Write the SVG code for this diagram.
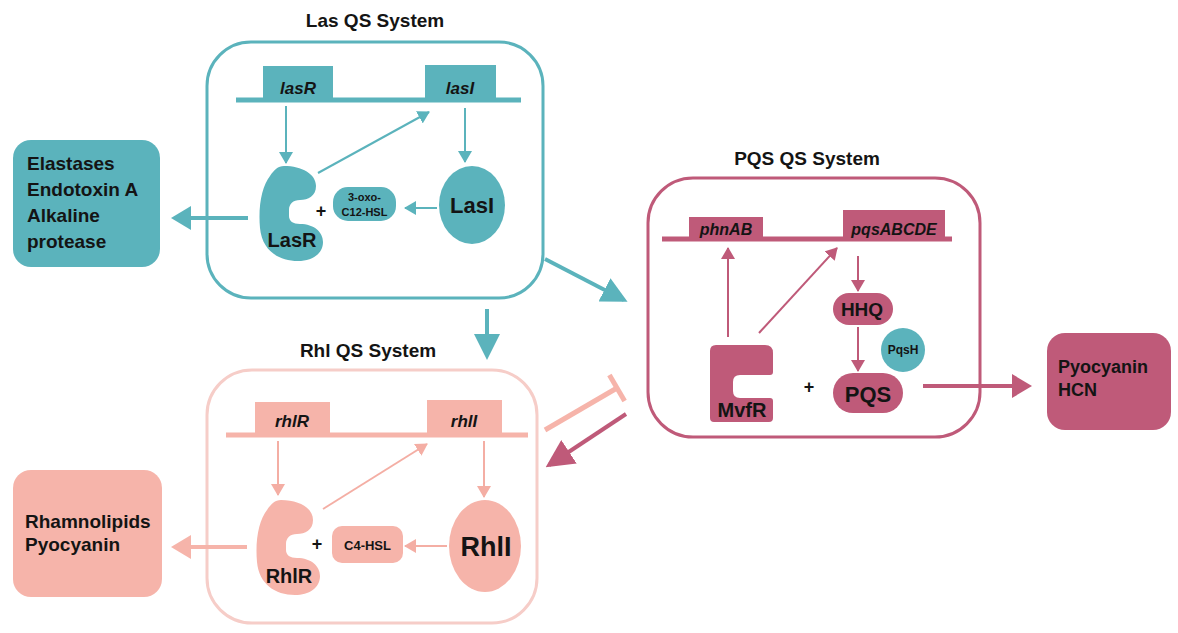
<svg xmlns="http://www.w3.org/2000/svg" width="1178" height="633" viewBox="0 0 1178 633">
<style>
text{font-family:"Liberation Sans",Arial,Helvetica,sans-serif;font-weight:bold;fill:#141414}
.title{font-size:19px;text-anchor:middle}
.gene{font-size:17px;font-style:italic;text-anchor:middle}
.mid{text-anchor:middle}
.teal{fill:#5bb3bc}
.maroon{fill:#bf5a79}
.pink{fill:#f6b4aa}
.tl{stroke:#5bb3bc;stroke-width:2;fill:none}
.ml{stroke:#bf5a79;stroke-width:2;fill:none}
.pl{stroke:#f4aea4;stroke-width:2;fill:none}
.thick{stroke-width:4}
.gl{stroke-width:5}
</style>
<defs>
<marker id="aT" viewBox="0 0 12 14" markerWidth="12" markerHeight="14" refX="11" refY="7" orient="auto" markerUnits="userSpaceOnUse"><path d="M0,0 L12,7 L0,14 z" fill="#5bb3bc"/></marker>
<marker id="aM" viewBox="0 0 12 14" markerWidth="12" markerHeight="14" refX="11" refY="7" orient="auto" markerUnits="userSpaceOnUse"><path d="M0,0 L12,7 L0,14 z" fill="#bf5a79"/></marker>
<marker id="aP" viewBox="0 0 12 14" markerWidth="12" markerHeight="14" refX="11" refY="7" orient="auto" markerUnits="userSpaceOnUse"><path d="M0,0 L12,7 L0,14 z" fill="#f4aea4"/></marker>
<marker id="bT" viewBox="0 0 26 26" markerWidth="26" markerHeight="26" refX="22" refY="13" orient="auto" markerUnits="userSpaceOnUse"><path d="M0,0 L26,13 L0,26 z" fill="#5bb3bc"/></marker>
<marker id="bM" viewBox="0 0 28 28" markerWidth="28" markerHeight="28" refX="24" refY="14" orient="auto" markerUnits="userSpaceOnUse"><path d="M0,0 L28,14 L0,28 z" fill="#bf5a79"/></marker>
<marker id="cT" viewBox="0 0 20 24" markerWidth="20" markerHeight="24" refX="16" refY="12" orient="auto" markerUnits="userSpaceOnUse"><path d="M0,0 L20,12 L0,24 z" fill="#5bb3bc"/></marker>
<marker id="cP" viewBox="0 0 20 24" markerWidth="20" markerHeight="24" refX="16" refY="12" orient="auto" markerUnits="userSpaceOnUse"><path d="M0,0 L20,12 L0,24 z" fill="#f6b4aa"/></marker>
<marker id="cM" viewBox="0 0 20 24" markerWidth="20" markerHeight="24" refX="16" refY="12" orient="auto" markerUnits="userSpaceOnUse"><path d="M0,0 L20,12 L0,24 z" fill="#bf5a79"/></marker>
<path id="receptor" d="M24 0 C42 0 56 8 56 20 C56 30 48 34 40 34 C33 34 29 38 29 44 L29 50 C29 55 33 58 40 58 C54 58 63 66 63 76 C63 88 52 95 38 95 C18 95 2 84 0 62 C-2 40 2 20 10 10 C14 4 18 0 24 0 Z"/>
</defs>
<rect width="1178" height="633" fill="#ffffff"/>

<!-- Las system -->
<g id="las-system">
<text class="title" x="375" y="27">Las QS System</text>
<rect x="207" y="42" width="336" height="256" rx="44" fill="none" stroke="#5bb3bc" stroke-width="3"/>
<line x1="236" y1="100" x2="521" y2="100" stroke="#5bb3bc" class="gl"/>
</g>
<g id="lasR-gene"><rect class="teal" x="263" y="66" width="70" height="34"/><text class="gene" x="298" y="94">lasR</text></g>
<g id="lasI-gene"><rect class="teal" x="425" y="65" width="71" height="35"/><text class="gene" x="460" y="94">lasI</text></g>
<g id="LasR"><use href="#receptor" transform="translate(260,166)" class="teal"/><text class="mid" x="292" y="247" font-size="20">LasR</text></g>
<g id="las-plus"><text class="mid" x="321" y="217" font-size="18">+</text></g>
<g id="oxo-C12-HSL"><rect class="teal" x="333" y="187" width="63" height="34" rx="15"/><text class="mid" x="364.5" y="201" font-size="11">3-oxo-</text><text class="mid" x="364.5" y="216" font-size="11">C12-HSL</text></g>
<g id="LasI"><ellipse class="teal" cx="472" cy="205" rx="33" ry="39"/><text class="mid" x="472" y="213" font-size="22">LasI</text></g>
<g id="elastases"><rect class="teal" x="13" y="140" width="147" height="127" rx="18"/>
<text x="27" y="170" font-size="19">Elastases</text><text x="27" y="196" font-size="19">Endotoxin A</text><text x="27" y="222" font-size="19">Alkaline</text><text x="27" y="248" font-size="19">protease</text></g>

<!-- PQS system -->
<g id="pqs-system">
<text class="title" x="807" y="165">PQS QS System</text>
<rect x="648" y="178" width="332" height="259" rx="45" fill="none" stroke="#bf5a79" stroke-width="3"/>
<line x1="662" y1="239" x2="952" y2="239" stroke="#bf5a79" class="gl"/>
</g>
<g id="phnAB-gene"><rect class="maroon" x="689" y="217" width="74" height="22"/><text class="gene" x="726" y="235" style="font-size:16px">phnAB</text></g>
<g id="pqsABCDE-gene"><rect class="maroon" x="843" y="210" width="102" height="29"/><text class="gene" x="894" y="235" style="font-size:16px">pqsABCDE</text></g>
<g id="MvfR"><path class="maroon" d="M716 345 L765 345 Q773 345 773 353 L773 372 Q773 375 770 375 L740 375 Q733 375 733 382 L733 391 Q733 398 740 398 L770 398 Q773 398 773 401 L773 418 Q773 422 769 422 L714 422 Q710 422 710 418 L710 351 Q710 345 716 345 Z"/><text class="mid" x="742" y="417" font-size="20">MvfR</text></g>
<g id="pqs-plus"><text class="mid" x="809" y="393" font-size="18">+</text></g>
<g id="HHQ"><rect class="maroon" x="833" y="293" width="60" height="32" rx="16"/><text class="mid" x="862" y="316" font-size="19">HHQ</text></g>
<g id="PqsH"><circle class="teal" cx="903" cy="350" r="22"/><text class="mid" x="903" y="354" font-size="12">PqsH</text></g>
<g id="PQS"><rect class="maroon" x="833" y="373" width="70" height="40" rx="20"/><text class="mid" x="868" y="402" font-size="22">PQS</text></g>
<g id="pyocyanin-hcn"><rect class="maroon" x="1047" y="333" width="124" height="97" rx="18"/><text x="1058" y="373" font-size="18">Pyocyanin</text><text x="1058" y="396" font-size="18">HCN</text></g>

<!-- Rhl system -->
<g id="rhl-system">
<text class="title" x="368" y="357">Rhl QS System</text>
<rect x="207" y="370" width="330" height="253" rx="45" fill="none" stroke="#f6cdc8" stroke-width="3"/>
<line x1="226" y1="435" x2="528" y2="435" stroke="#f6b4aa" class="gl"/>
</g>
<g id="rhlR-gene"><rect class="pink" x="255" y="402" width="75" height="33"/><text class="gene" x="292" y="427">rhlR</text></g>
<g id="rhlI-gene"><rect class="pink" x="427" y="400" width="75" height="35"/><text class="gene" x="464" y="427">rhlI</text></g>
<g id="RhlR"><use href="#receptor" transform="translate(257,500)" class="pink"/><text class="mid" x="289" y="583" font-size="20">RhlR</text></g>
<g id="rhl-plus"><text class="mid" x="317" y="550" font-size="18">+</text></g>
<g id="C4-HSL"><rect class="pink" x="332" y="526" width="71" height="37" rx="10"/><text class="mid" x="367.5" y="550" font-size="13">C4-HSL</text></g>
<g id="RhlI"><ellipse class="pink" cx="485" cy="546" rx="36" ry="46"/><text class="mid" x="486" y="556" font-size="27">RhlI</text></g>
<g id="rhamnolipids"><rect class="pink" x="13" y="470" width="149" height="127" rx="18"/><text x="25" y="528" font-size="19">Rhamnolipids</text><text x="25" y="551" font-size="19">Pyocyanin</text></g>

<!-- connectors -->
<g id="connectors">
<line class="tl" x1="286" y1="106" x2="286" y2="163" marker-end="url(#aT)"/>
<line class="tl" x1="465" y1="108" x2="465" y2="162" marker-end="url(#aT)"/>
<line class="tl" x1="318" y1="173" x2="429" y2="112" marker-end="url(#aT)"/>
<line class="tl" x1="437" y1="208" x2="405" y2="208" marker-end="url(#aT)"/>
<line class="tl thick" x1="248" y1="218" x2="175" y2="218" marker-end="url(#cT)"/>
<line class="tl thick" x1="545" y1="259" x2="624" y2="300" marker-end="url(#bT)"/>
<line class="tl thick" x1="487" y1="309" x2="487" y2="356" marker-end="url(#bT)"/>

<line class="ml" x1="728" y1="337" x2="728" y2="248" marker-end="url(#aM)"/>
<line class="ml" x1="759" y1="333" x2="837" y2="248" marker-end="url(#aM)"/>
<line class="ml" x1="858" y1="256" x2="858" y2="291" marker-end="url(#aM)"/>
<line class="ml" x1="858" y1="327" x2="858" y2="371" marker-end="url(#aM)"/>
<line class="ml thick" x1="923" y1="386" x2="1028" y2="386" marker-end="url(#cM)"/>
<line class="ml thick" x1="626" y1="414" x2="549" y2="465" marker-end="url(#bM)"/>

<line class="pl" x1="278" y1="441" x2="278" y2="495" marker-end="url(#aP)"/>
<line class="pl" x1="484" y1="441" x2="484" y2="497" marker-end="url(#aP)"/>
<line class="pl" x1="323" y1="509" x2="427" y2="444" marker-end="url(#aP)"/>
<line class="pl" x1="447" y1="546" x2="405" y2="546" marker-end="url(#aP)"/>
<line x1="247" y1="547" x2="175" y2="547" stroke="#f6b4aa" stroke-width="4" marker-end="url(#cP)"/>
<line x1="545" y1="430" x2="617" y2="388" stroke="#f6b4aa" stroke-width="5"/>
<line x1="609.4" y1="375.1" x2="624.6" y2="400.9" stroke="#f6b4aa" stroke-width="5"/>
</g>
</svg>
